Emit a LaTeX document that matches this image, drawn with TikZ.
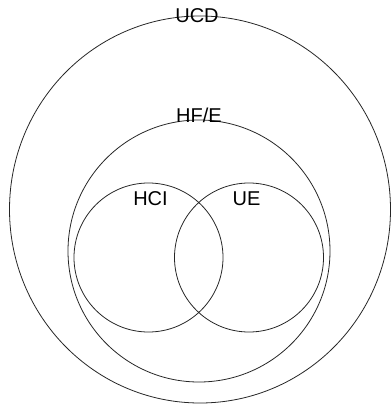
\documentclass[tikz,border=0pt]{standalone}
\usepackage{fontspec}
\setmainfont{Liberation Sans}
\begin{document}
\begin{tikzpicture}[x=1pt, y=-1pt,
    ring/.style={draw=black!85, line width=0.8pt},
    lbl/.style={inner sep=0pt, font=\fontsize{20}{24}\selectfont}]

  \useasboundingbox (0,0) rectangle (391,407);

   %circles:
  \draw[ring] (200,209.5) ellipse [x radius=190.5, y radius=193.5];
  \draw[ring] (199,251) circle [radius=131];
  \draw[ring] (148.5,257.5) circle [radius=74.5];
  \draw[ring] (249,257.5) circle [radius=74.5];

   %labels:
  \node[lbl] (ucd) at (197,16) {UCD};
  \node[lbl] (hfe) at (199,115) {HF/E};
  \node[lbl] (hci) at (150.5,199) {HCI};
  \node[lbl] (ue) at (246.5,199) {UE};
\end{tikzpicture}
\end{document}
